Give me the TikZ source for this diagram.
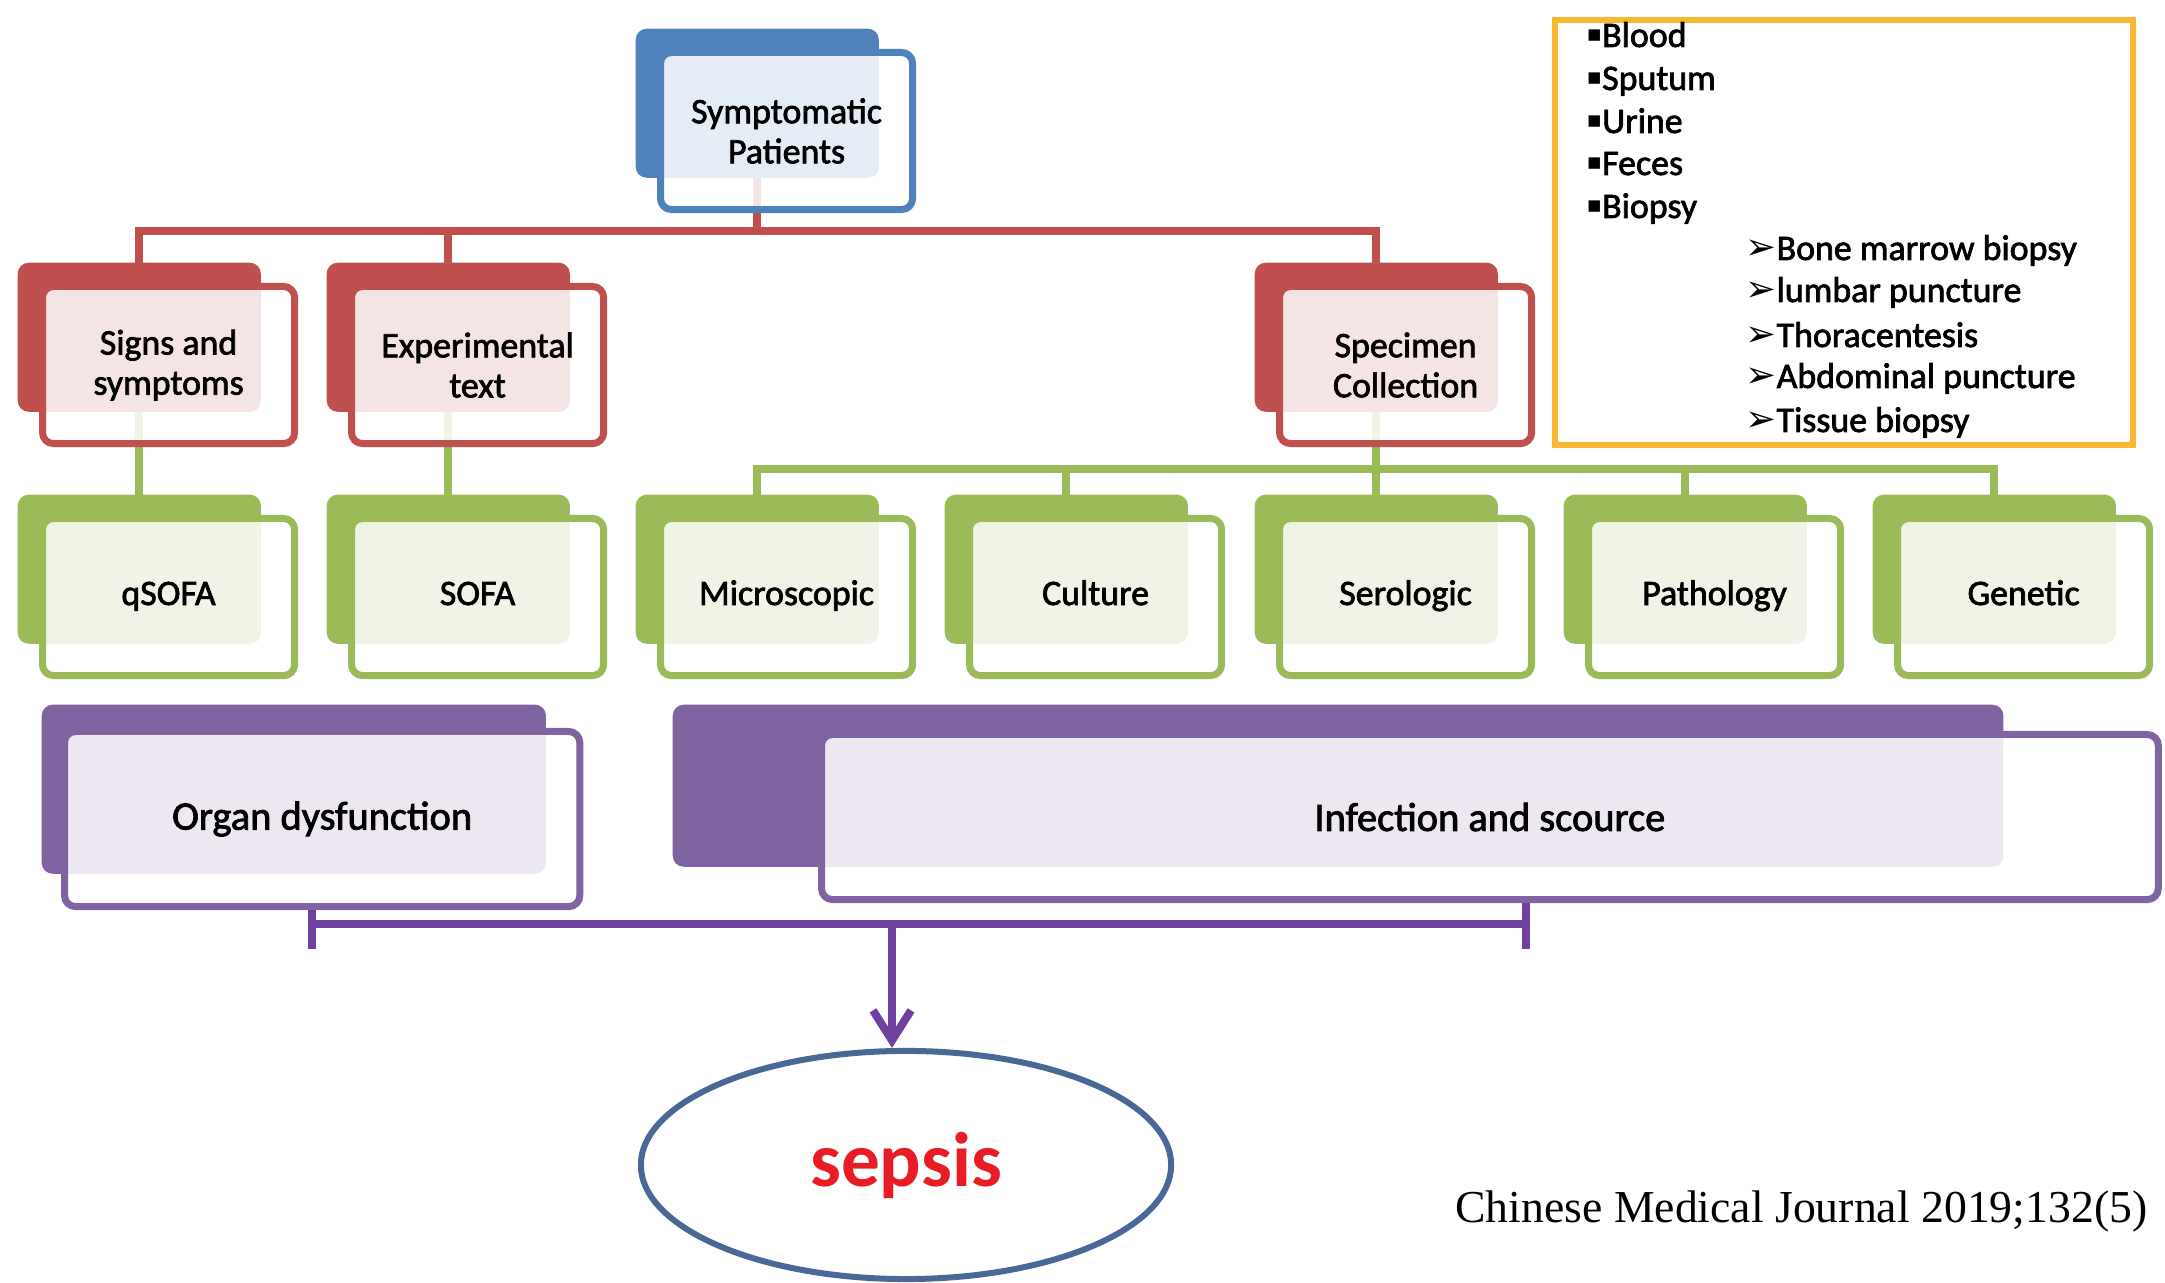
\documentclass[tikz,border=0pt]{standalone}
\usepackage{fontspec}
\setmainfont{Carlito}
\newfontfamily\boxfont{Carlito}[FakeBold=2]
\newfontfamily\symbolfont{DejaVu Sans}
\newfontfamily\journalfont{Liberation Serif}
\usetikzlibrary{arrows.meta, shapes, backgrounds}
\usepackage{xcolor}
\definecolor{officeblue}{RGB}{79,129,189}
\definecolor{officered}{RGB}{192,80,77}
\definecolor{officegreen}{RGB}{155,187,89}
\definecolor{officepurple}{RGB}{128,100,162}
\definecolor{bracketpurple}{RGB}{112,64,160}
\definecolor{listorange}{RGB}{248,184,48}
\definecolor{sepsisblue}{RGB}{74,104,150}
\definecolor{sepsisred}{RGB}{232,28,36}
\tikzset{backbox/.style={rounded corners=0.11cm, inner sep=0pt, minimum width=2.43cm, minimum height=1.49cm, anchor=north west},
frontbox/.style={rounded corners=0.11cm, line width=0.07cm, fill=white, fill opacity=0.85, text opacity=1, inner sep=0pt, minimum width=2.52cm, minimum height=1.57cm, align=center, anchor=north west, font=\boxfont\fontsize{10.2}{11.4}\selectfont},
linkline/.style={line width=0.08cm},
listitem/.style={anchor=base west, inner sep=0pt, font=\boxfont\fontsize{10.2}{12}\selectfont}}

\begin{document}
\begin{tikzpicture}[x=0.01cm, y=-0.01cm]
                \useasboundingbox (0,0) rectangle (2165,1283);

                % Top box
                \node[backbox, fill=officeblue] (sympB) at (635,28) {};
                \node[frontbox, draw=officeblue] (sympF) at (657,49) {Symptomatic\\Patients};

                % Red row
                \foreach \name/\bx/\btext in {sign/17/{Signs and\\symptoms}, exp/326/{Experimental\\text}, spec/1254/{Specimen\\Collection}} {
\node[backbox, fill=officered] (\name B) at (\bx,262) {};
\node[frontbox, draw=officered] (\name F) at (\bx+22,283) {\btext};
}

                % Green row
                \foreach \name/\bx/\btext in {qsofa/17/qSOFA, sofa/326/SOFA, micro/635/Microscopic, cult/944/Culture, sero/1254/Serologic, path/1563/Pathology, gene/1872/Genetic} {
\node[backbox, fill=officegreen] (\name B) at (\bx,494) {};
\node[frontbox, draw=officegreen] (\name F) at (\bx+22,515) {\strut\btext};
}

                % Purple row
                \node[backbox, fill=officepurple, minimum width=5.04cm, minimum height=1.69cm] (organB) at (41,704) {};
                \node[frontbox, draw=officepurple, minimum width=5.15cm, minimum height=1.75cm, font=\boxfont\fontsize{11.5}{13}\selectfont] (organF) at (61,728) {Organ dysfunction};
                \node[backbox, fill=officepurple, minimum width=13.30cm, minimum height=1.62cm] (infB) at (672,704) {};
                \node[frontbox, draw=officepurple, minimum width=13.36cm, minimum height=1.65cm, font=\boxfont\fontsize{11.5}{13}\selectfont] (infF) at (818,731) {Infection and scource};

                % Samples
                \node[draw=listorange, line width=0.06cm, minimum width=5.78cm, minimum height=4.25cm, anchor=north west, inner sep=0pt] (samples) at (1552,17) {};
                \foreach \name/\y/\item in {blood/47/Blood, sputum/90/Sputum, urine/133/Urine, feces/175/Feces, biopsy/218/Biopsy} {
\node[listitem] (\name) at (1586,\y) {{\symbolfont\fontsize{6.5}{6}\selectfont\raisebox{1.5pt}{▪}}\item};
}
                \foreach \name/\y/\item in {bone/260/Bone marrow biopsy, lumbar/302/lumbar puncture, thora/347/Thoracentesis, abdo/388/Abdominal puncture, tissue/432/Tissue biopsy} {
\node[listitem] (\name) at (1745,\y) {{\symbolfont\fontsize{10.5}{10}\selectfont ➢}\item};
}

                % Result
                \node[draw=sepsisblue, line width=0.06cm, ellipse, minimum width=5.3cm, minimum height=2.28cm, inner sep=0pt, text=sepsisred, font=\fontsize{22}{26}\selectfont\bfseries] (sepsis) at (906,1165) {sepsis};
                \node[anchor=base east, inner sep=0pt, font=\journalfont\fontsize{13}{15}\selectfont] (journal) at (2148,1223) {Chinese Medical Journal 2019;132(5)};

                % Connectors
                \coordinate (redbar) at (0,231);
                \coordinate (greenbar) at (0,469);
                \coordinate (tickL) at (312,949);
                \coordinate (tickR) at (1526,949);
                \coordinate (arrowtop) at (892,924);
                \begin{scope}[on background layer]
                \draw[linkline, officered] (sympB.center) -- (sympB.center |- redbar);
                \draw[linkline, officered] (signB.center) |- (redbar -| specB.center) -- (specB.center);
                \draw[linkline, officered] (expB.center) -- (expB.center |- redbar);
                \draw[linkline, officegreen] (signB.center) -- (qsofaB.center);
                \draw[linkline, officegreen] (expB.center) -- (sofaB.center);
                \draw[linkline, officegreen] (specB.center) -- (specB.center |- greenbar);
                \draw[linkline, officegreen] (microB.center) |- (greenbar -| geneB.center) -- (geneB.center);
                \foreach \name in {cult, sero, path} {
\draw[linkline, officegreen] (\name B.center) -- (\name B.center |- greenbar);
}
                \end{scope}
                \draw[linkline, bracketpurple] (organF.south -| tickL) -- (tickL);
                \draw[linkline, bracketpurple] (infF.south -| tickR) -- (tickR);
                \draw[linkline, bracketpurple] (tickL |- arrowtop) -- (tickR |- arrowtop);
                \draw[linkline, bracketpurple, -{Straight Barb[length=0.3cm, width=0.38cm]}] (arrowtop) -- (arrowtop |- sepsis.north);
            \end{tikzpicture}
\end{document}
